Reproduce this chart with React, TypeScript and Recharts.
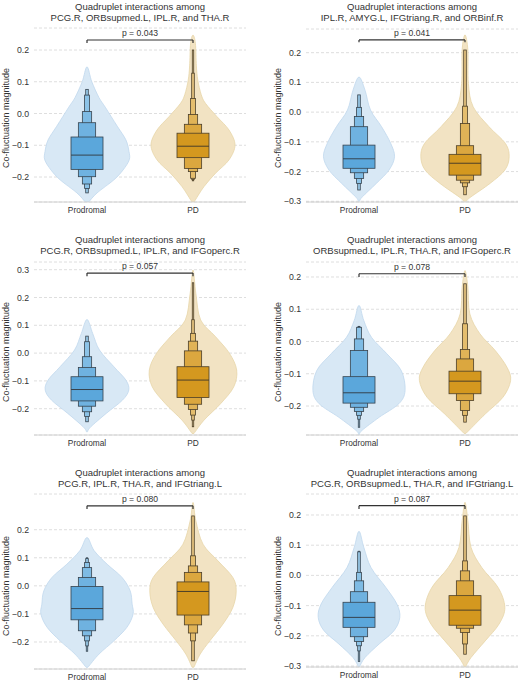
import React from 'react';
import { ComposedChart, Bar, XAxis, YAxis, CartesianGrid, ReferenceLine } from 'recharts';

type Pt = [number, number];

const FONT = '"Liberation Sans", Arial, Helvetica, sans-serif';

// ---------- data ----------
const groups = ['Prodromal', 'PD'];
const titleLead = 'Quadruplet interactions among';
const regionSets = [
  'PCG.R, ORBsupmed.L, IPL.R, and THA.R',
  'IPL.R, AMYG.L, IFGtriang.R, and ORBinf.R',
  'PCG.R, ORBsupmed.L, IPL.R, and IFGoperc.R',
  'ORBsupmed.L, IPL.R, THA.R, and IFGoperc.R',
  'PCG.R, IPL.R, THA.R, and IFGtriang.L',
  'PCG.R, ORBsupmed.L, THA.R, and IFGtriang.L',
];
const pLabels = ['p = 0.043', 'p = 0.041', 'p = 0.057', 'p = 0.078', 'p = 0.080', 'p = 0.087'];
const bracketLevels = [0.2315, 0.243, 0.288, 0.21, 0.285, 0.231];
const bracketTicks = [0.222, 0.235, 0.276, 0.2, 0.274, 0.22];

const yDomains: Pt[] = [
  [-0.2787, 0.2693],
  [-0.3024, 0.2797],
  [-0.2946, 0.3277],
  [-0.2899, 0.2465],
  [-0.2962, 0.3272],
  [-0.3033, 0.2695],
];
const yTicks = [
  [-0.2, -0.1, 0, 0.1, 0.2],
  [-0.3, -0.2, -0.1, 0, 0.1, 0.2],
  [-0.2, -0.1, 0, 0.1, 0.2, 0.3],
  [-0.2, -0.1, 0, 0.1, 0.2],
  [-0.2, -0.1, 0, 0.1, 0.2],
  [-0.3, -0.2, -0.1, 0, 0.1, 0.2],
];

// violin profiles: [value, relative density]
const violin1Prodromal: Pt[] = [[0.147, 0], [0.10, 0.10], [0.05, 0.25], [0.02, 0.38], [-0.04, 0.63], [-0.083, 0.81], [-0.12, 0.875], [-0.146, 0.88], [-0.178, 0.75], [-0.209, 0.56], [-0.25, 0.21], [-0.278, 0.04]];
const violin1PD: Pt[] = [[0.247, 0], [0.221, 0.05], [0.15, 0.07], [0.105, 0.10], [0.06, 0.17], [0.032, 0.26], [-0.01, 0.5], [-0.052, 0.75], [-0.099, 0.875], [-0.146, 0.75], [-0.188, 0.47], [-0.23, 0.23], [-0.272, 0.05], [-0.278, 0.03]];
const violin2Prodromal: Pt[] = [[0.118, 0], [0.074, 0.125], [0.007, 0.24], [-0.049, 0.47], [-0.105, 0.66], [-0.15, 0.74], [-0.195, 0.625], [-0.24, 0.36], [-0.285, 0.07], [-0.3, 0.01]];
const violin2PD: Pt[] = [[0.26, 0], [0.209, 0.06], [0.097, 0.07], [0.018, 0.17], [-0.049, 0.5], [-0.105, 0.84], [-0.15, 0.92], [-0.195, 0.83], [-0.24, 0.52], [-0.285, 0.125], [-0.3, 0.02]];
const violin3Prodromal: Pt[] = [[0.121, 0], [0.07, 0.12], [0.011, 0.26], [-0.049, 0.56], [-0.097, 0.81], [-0.133, 0.87], [-0.169, 0.74], [-0.217, 0.40], [-0.265, 0.08], [-0.283, 0.01]];
const violin3PD: Pt[] = [[0.299, 0], [0.214, 0.06], [0.119, 0.16], [0.059, 0.47], [-0.001, 0.76], [-0.061, 0.91], [-0.121, 0.85], [-0.181, 0.58], [-0.241, 0.23], [-0.289, 0.02]];
const violin4Prodromal: Pt[] = [[0.112, 0], [0.065, 0.10], [0.013, 0.26], [-0.038, 0.58], [-0.09, 0.88], [-0.152, 0.96], [-0.193, 0.83], [-0.235, 0.42], [-0.276, 0.06], [-0.289, 0.01]];
const violin4PD: Pt[] = [[0.22, 0], [0.168, 0.06], [0.086, 0.10], [0.024, 0.31], [-0.028, 0.63], [-0.08, 0.875], [-0.121, 0.95], [-0.173, 0.79], [-0.225, 0.42], [-0.276, 0.08], [-0.285, 0.02]];
const violin5Prodromal: Pt[] = [[0.172, 0], [0.125, 0.15], [0.077, 0.42], [0.03, 0.73], [-0.018, 0.9], [-0.065, 0.94], [-0.101, 0.96], [-0.148, 0.83], [-0.196, 0.56], [-0.243, 0.25], [-0.29, 0.02]];
const violin5PD: Pt[] = [[0.297, 0], [0.231, 0.06], [0.148, 0.21], [0.089, 0.52], [0.03, 0.83], [-0.018, 0.9], [-0.077, 0.83], [-0.136, 0.625], [-0.196, 0.35], [-0.243, 0.15], [-0.29, 0.02]];
const violin6Prodromal: Pt[] = [[0.146, 0], [0.093, 0.10], [0.026, 0.25], [-0.04, 0.56], [-0.095, 0.79], [-0.139, 0.85], [-0.183, 0.73], [-0.227, 0.42], [-0.272, 0.125], [-0.303, 0.01]];
const violin6PD: Pt[] = [[0.242, 0], [0.181, 0.06], [0.093, 0.125], [0.026, 0.35], [-0.04, 0.69], [-0.106, 0.83], [-0.161, 0.71], [-0.217, 0.42], [-0.272, 0.125], [-0.303, 0.01]];

// letter-value boxes [low, high], innermost (IQR) first
const boxen1Prodromal: Pt[] = [[-0.176, -0.074], [-0.199, -0.029], [-0.222, 0.006], [-0.236, 0.058], [-0.25, 0.076]];
const boxen1PD: Pt[] = [[-0.139, -0.062], [-0.173, -0.034], [-0.183, -0.003], [-0.204, 0.047], [-0.208, 0.127], [-0.212, 0.2]];
const boxen2Prodromal: Pt[] = [[-0.189, -0.111], [-0.204, -0.049], [-0.223, -0.015], [-0.24, 0.016], [-0.262, 0.058]];
const boxen2PD: Pt[] = [[-0.212, -0.142], [-0.229, -0.113], [-0.238, -0.038], [-0.251, 0.02], [-0.278, 0.209]];
const boxen3Prodromal: Pt[] = [[-0.172, -0.085], [-0.191, -0.052], [-0.211, -0.013], [-0.228, 0.041], [-0.247, 0.061]];
const boxen3PD: Pt[] = [[-0.16, -0.049], [-0.184, 0.008], [-0.203, 0.043], [-0.223, 0.071], [-0.241, 0.12], [-0.265, 0.253]];
const boxen4Prodromal: Pt[] = [[-0.191, -0.109], [-0.204, -0.028], [-0.217, 0.008], [-0.229, 0.044], [-0.241, 0.045], [-0.266, 0.047]];
const boxen4PD: Pt[] = [[-0.162, -0.092], [-0.183, -0.054], [-0.214, -0.025], [-0.229, 0.055], [-0.25, 0.179]];
const boxen5Prodromal: Pt[] = [[-0.121, -0.002], [-0.16, 0.03], [-0.178, 0.065], [-0.196, 0.083], [-0.214, 0.097], [-0.233, 0.1]];
const boxen5PD: Pt[] = [[-0.104, 0.014], [-0.139, 0.048], [-0.168, 0.071], [-0.196, 0.107], [-0.267, 0.249]];
const boxen6Prodromal: Pt[] = [[-0.172, -0.089], [-0.203, -0.054], [-0.219, -0.018], [-0.233, 0.01], [-0.25, 0.078], [-0.285, 0.08]];
const boxen6PD: Pt[] = [[-0.165, -0.067], [-0.175, -0.018], [-0.189, 0.015], [-0.227, 0.048], [-0.261, 0.197]];

const medians: Pt[] = [
  [-0.131, -0.103],
  [-0.157, -0.172],
  [-0.131, -0.097],
  [-0.159, -0.123],
  [-0.081, -0.02],
  [-0.139, -0.115],
];

const violins: [Pt[], Pt[]][] = [
  [violin1Prodromal, violin1PD],
  [violin2Prodromal, violin2PD],
  [violin3Prodromal, violin3PD],
  [violin4Prodromal, violin4PD],
  [violin5Prodromal, violin5PD],
  [violin6Prodromal, violin6PD],
];
const boxens: [Pt[], Pt[]][] = [
  [boxen1Prodromal, boxen1PD],
  [boxen2Prodromal, boxen2PD],
  [boxen3Prodromal, boxen3PD],
  [boxen4Prodromal, boxen4PD],
  [boxen5Prodromal, boxen5PD],
  [boxen6Prodromal, boxen6PD],
];

// ---------- layout ----------
const Y_AXIS_W = 34;
const X_AXIS_H = 16;
const MARGIN_TOP = 4;
const CHART_W = 246;
const colLeft = [0, 272];
const plotTops = [28, 29, 262, 262, 494, 494];
const plotBottoms = [202, 202, 435, 435, 669, 667];
const titleTops = [0.5, 0.5, 234.2, 234.2, 466.8, 466.8];
const yLabelCenters = [118, 118, 352, 352, 585.7, 585.7];
const yLabelX = [5.5, 278];

const BAR_SIZE = 96;
const BOX_W = 32;
const LEVEL_W = [1, 0.54, 0.29, 0.15, 0.08, 0.045];
const TEXT = '#333333';

const palettes: Record<string, { fill: string; stroke: string; levels: string[]; edge: string }> = {
  Prodromal: {
    fill: '#d8e8f5',
    stroke: '#c0d8ed',
    levels: ['#5ba7db', '#6fb2e0', '#7ebbe4', '#8cc3e7', '#9acaea', '#a7d1ec'],
    edge: '#36434e',
  },
  PD: {
    fill: '#f2e3c3',
    stroke: '#e7d5a8',
    levels: ['#d4981f', '#dba73f', '#e0b357', '#e4bd6d', '#e8c682', '#ebce94'],
    edge: '#4c3f28',
  },
};

function openCurve(pts: number[][]): string {
  const n = pts.length;
  let d = `M${pts[0][0]},${pts[0][1]}`;
  for (let i = 0; i < n - 1; i++) {
    const p0 = pts[Math.max(i - 1, 0)];
    const p1 = pts[i];
    const p2 = pts[i + 1];
    const p3 = pts[Math.min(i + 2, n - 1)];
    const c1x = p1[0] + (p2[0] - p0[0]) / 6;
    const c1y = p1[1] + (p2[1] - p0[1]) / 6;
    const c2x = p2[0] - (p3[0] - p1[0]) / 6;
    const c2y = p2[1] - (p3[1] - p1[1]) / 6;
    d += `C${c1x},${c1y} ${c2x},${c2y} ${p2[0]},${p2[1]}`;
  }
  return d + 'Z';
}

function ViolinBoxen(props: any) {
  const { x, y, width, height, payload } = props;
  if (!payload) return null;
  const [lo, hi] = payload.range as Pt;
  const top = Math.min(y, y + height);
  const h = Math.abs(height);
  const cx = x + width / 2;
  const half = width / 2;
  const toY = (v: number) => top + ((hi - v) / (hi - lo)) * h;
  const pal = palettes[payload.group];

  const prof = (payload.violin as Pt[]).slice().sort((a, b) => a[0] - b[0]);
  const right = prof.map(([v, d]) => [cx + d * half, toY(v)]);
  const left = prof
    .slice()
    .reverse()
    .map(([v, d]) => [cx - d * half, toY(v)]);
  const outline = right.concat(left.slice(1));

  const levels = payload.boxen as Pt[];
  const boxes = levels
    .map(([a, b], k) => {
      const w = BOX_W * LEVEL_W[k];
      return (
        <rect
          key={k}
          x={cx - w / 2}
          y={toY(b)}
          width={w}
          height={toY(a) - toY(b)}
          fill={pal.levels[k]}
          stroke={pal.edge}
          strokeWidth={0.8}
        />
      );
    })
    .reverse();
  const my = toY(payload.median);

  return (
    <g>
      <path d={openCurve(outline)} fill={pal.fill} stroke={pal.stroke} strokeWidth={0.8} />
      {boxes}
      <line x1={cx - BOX_W / 2} x2={cx + BOX_W / 2} y1={my} y2={my} stroke={pal.edge} strokeWidth={1} />
    </g>
  );
}

const fmtTick = (v: number) => (v < 0 ? '\u2212' : '') + Math.abs(v).toFixed(1);

function Panel({ i }: { i: number }) {
  const col = i % 2;
  const data = groups.map((g, k) => {
    const vals = violins[i][k].map((p) => p[0]);
    return {
      group: g,
      range: [Math.min(...vals), Math.max(...vals)] as Pt,
      violin: violins[i][k],
      boxen: boxens[i][k],
      median: medians[i][k],
    };
  });
  const plotH = plotBottoms[i] - plotTops[i];
  const chartH = plotH + MARGIN_TOP + X_AXIS_H;
  const yTickStyle = { fontSize: 8.7, fill: TEXT, fontFamily: FONT };
  const xTickStyle = { fontSize: 8.3, fill: TEXT, fontFamily: FONT };
  return (
    <div style={{ position: 'absolute', left: colLeft[col], top: plotTops[i] - MARGIN_TOP }}>
      <ComposedChart
        width={CHART_W}
        height={chartH}
        data={data}
        margin={{ top: MARGIN_TOP, right: 0, bottom: 0, left: 0 }}
      >
        <CartesianGrid vertical={false} stroke="#d6d6d6" strokeDasharray="3 2" strokeWidth={0.8} />
        <XAxis
          dataKey="group"
          height={X_AXIS_H}
          axisLine={{ stroke: '#d0d0d0' }}
          tickLine={false}
          tickSize={3}
          tickMargin={2}
          tick={xTickStyle}
        />
        <YAxis
          type="number"
          width={Y_AXIS_W}
          domain={yDomains[i]}
          ticks={yTicks[i]}
          interval={0}
          allowDataOverflow
          axisLine={false}
          tickLine={false}
          tickSize={3}
          tickMargin={2}
          tick={yTickStyle}
          tickFormatter={fmtTick}
        />
        <Bar dataKey="range" barSize={BAR_SIZE} shape={(p: any) => <ViolinBoxen {...p} />} isAnimationActive={false} />
        <ReferenceLine
          segment={[
            { x: groups[0], y: bracketLevels[i] },
            { x: groups[1], y: bracketLevels[i] },
          ]}
          stroke="#333333"
          strokeWidth={1.2}
          ifOverflow="visible"
          label={{ value: pLabels[i], position: 'top', offset: 4, fontSize: 8.6, fill: TEXT, fontFamily: FONT }}
        />
        <ReferenceLine
          segment={[
            { x: groups[0], y: bracketTicks[i] },
            { x: groups[0], y: bracketLevels[i] },
          ]}
          stroke="#333333"
          strokeWidth={1.2}
          ifOverflow="visible"
        />
        <ReferenceLine
          segment={[
            { x: groups[1], y: bracketTicks[i] },
            { x: groups[1], y: bracketLevels[i] },
          ]}
          stroke="#333333"
          strokeWidth={1.2}
          ifOverflow="visible"
        />
      </ComposedChart>
    </div>
  );
}

export default function App() {
  return (
    <div
      style={{
        position: 'fixed',
        left: 0,
        top: 0,
        width: 518,
        height: 682,
        overflow: 'hidden',
        background: '#ffffff',
        fontFamily: FONT,
        color: TEXT,
      }}
    >
      {regionSets.map((r, i) => {
        const col = i % 2;
        const center = colLeft[col] + Y_AXIS_W + (CHART_W - Y_AXIS_W) / 2;
        return (
          <div
            key={'t' + i}
            style={{
              position: 'absolute',
              left: center - 115,
              width: 230,
              top: titleTops[i],
              textAlign: 'center',
              fontSize: 9.5,
              lineHeight: '11px',
              whiteSpace: 'nowrap',
            }}
          >
            <div>{titleLead}</div>
            <div>{r}</div>
          </div>
        );
      })}
      {regionSets.map((_, i) => (
        <div
          key={'y' + i}
          style={{
            position: 'absolute',
            left: yLabelX[i % 2],
            top: yLabelCenters[i],
            transform: 'translate(-50%, -50%) rotate(-90deg)',
            fontSize: 9,
            whiteSpace: 'nowrap',
          }}
        >
          Co-fluctuation magnitude
        </div>
      ))}
      {regionSets.map((_, i) => (
        <Panel key={'p' + i} i={i} />
      ))}
    </div>
  );
}
